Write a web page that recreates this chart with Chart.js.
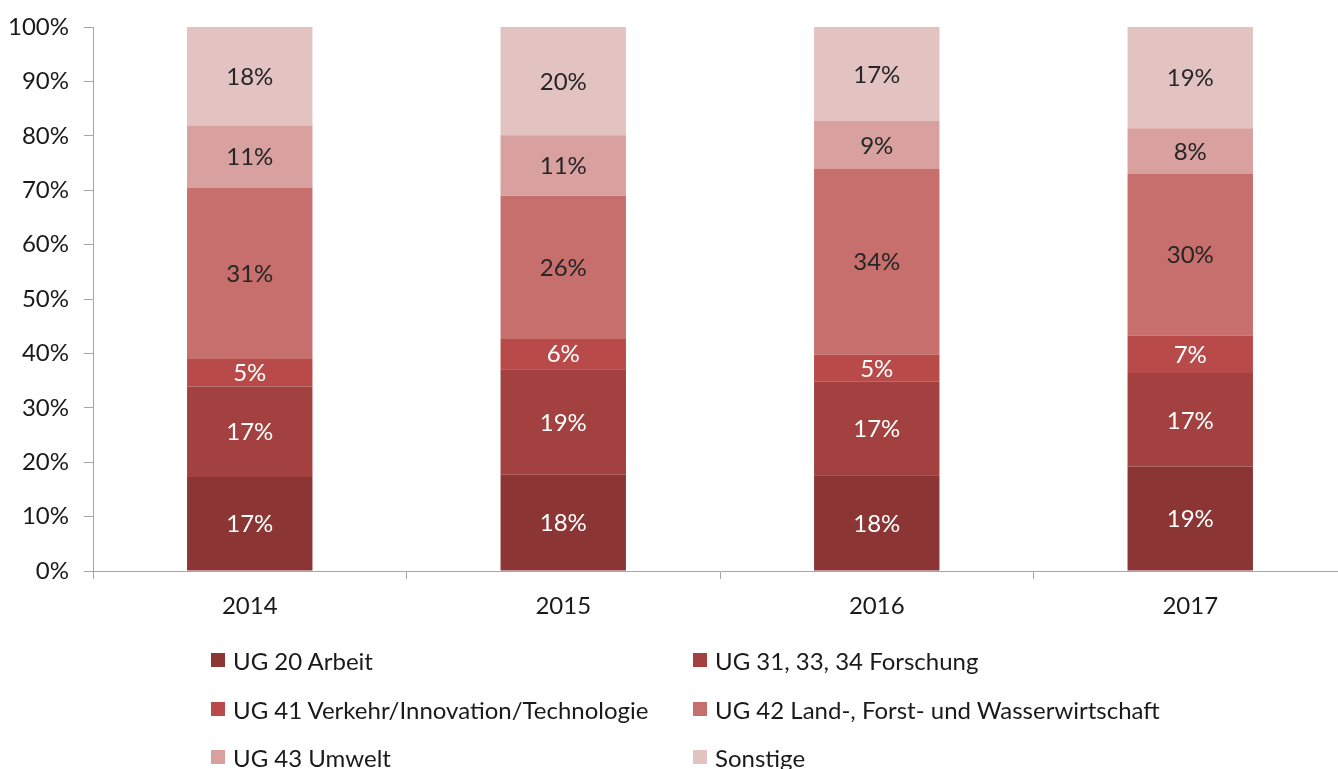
<!DOCTYPE html>
<html>
<head>
<meta charset="utf-8">
<script src="https://cdn.jsdelivr.net/npm/chart.js@4.4.1/dist/chart.umd.min.js"></script>
<style>
  html, body { margin: 0; padding: 0; background: #fff; overflow: hidden; }
  #wrap { position: relative; width: 1350px; height: 769px; }
  #c { position: absolute; left: 0; top: 0; }
  .lg { position: absolute; display: flex; align-items: center; font-family: Lato, "Liberation Sans", sans-serif; font-size: 24px; color: #1a1a1a; white-space: nowrap; }
  .lg span.box { display: inline-block; width: 14px; height: 14px; margin-right: 8px; }
</style>
</head>
<body>
<div id="wrap">
  <canvas id="c" width="1350" height="769"></canvas>
</div>
<script>
const categories = ["2014", "2015", "2016", "2017"];
const seriesNames = [
  "UG 20 Arbeit",
  "UG 31, 33, 34 Forschung",
  "UG 41 Verkehr/Innovation/Technologie",
  "UG 42 Land-, Forst- und Wasserwirtschaft",
  "UG 43 Umwelt",
  "Sonstige"
];
const arbeit     = [17.3, 17.7, 17.6, 19.2];
const forschung  = [16.6, 19.4, 17.2, 17.2];
const verkehr    = [5.2, 5.7, 5.0, 6.9];
const land       = [31.4, 26.2, 34.2, 29.7];
const umwelt     = [11.4, 11.1, 8.7, 8.4];
const sonstige   = [18.1, 19.9, 17.3, 18.6];
const yTicks = [0, 10, 20, 30, 40, 50, 60, 70, 80, 90, 100];

const seriesValues = [arbeit, forschung, verkehr, land, umwelt, sonstige];
const colors = ["#8B3535", "#A24140", "#B84B49", "#C76F6D", "#D8A09F", "#E3C3C2"];
const labelColors = ["#ffffff", "#ffffff", "#ffffff", "#262626", "#262626", "#262626"];
const FONT = 'Lato, "Liberation Sans", sans-serif';
const FS = 24;

const datasets = seriesNames.map((name, i) => ({
  label: name,
  data: seriesValues[i],
  backgroundColor: colors[i],
  borderWidth: 0,
  categoryPercentage: 1.0,
  barPercentage: 0.4
}));

const segLabels = {
  id: 'segLabels',
  afterDatasetsDraw(chart) {
    const ctx = chart.ctx;
    ctx.save();
    ctx.font = FS + 'px ' + FONT;
    ctx.textAlign = 'center';
    ctx.textBaseline = 'middle';
    chart.data.datasets.forEach((ds, di) => {
      const meta = chart.getDatasetMeta(di);
      meta.data.forEach((el, idx) => {
        const p = el.getProps(['x', 'y', 'base'], true);
        ctx.fillStyle = labelColors[di];
        ctx.fillText(Math.round(ds.data[idx]) + '%', p.x, (p.y + p.base) / 2 + 1);
      });
    });
    ctx.restore();
  }
};

const axisGrey = '#A6A6A6';
const chart = new Chart(document.getElementById('c'), {
  type: 'bar',
  data: { labels: categories, datasets },
  options: {
    responsive: false,
    animation: false,
    layout: { padding: { top: 27, right: 3, left: 0, bottom: 0 } },
    plugins: { legend: { display: false }, tooltip: { enabled: false } },
    scales: {
      x: {
        stacked: true,
        offset: true,
        grid: { display: true, drawOnChartArea: false, drawTicks: true, tickLength: 8, color: axisGrey, offset: true },
        border: { display: true, color: axisGrey, width: 1 },
        ticks: { color: '#1a1a1a', font: { family: FONT, size: FS }, padding: 13, maxRotation: 0 },
        afterFit(scale) { scale.height = 198; scale.paddingLeft = 0; scale.paddingRight = 0; }
      },
      y: {
        stacked: true,
        min: 0, max: 100,
        afterBuildTicks(scale) { scale.ticks = yTicks.map(v => ({ value: v })); },
        grid: { display: true, drawOnChartArea: false, drawTicks: true, tickLength: 9, color: axisGrey },
        border: { display: true, color: axisGrey, width: 1 },
        ticks: { color: '#1a1a1a', font: { family: FONT, size: FS }, padding: 15, callback: v => v + '%' },
        afterFit(scale) { scale.width = 93; scale.paddingTop = 0; scale.paddingBottom = 0; }
      }
    }
  },
  plugins: [segLabels]
});

// Two-column legend built from datasets
const wrap = document.getElementById('wrap');
const colLeft = [211, 693];
const rowTop = [648, 697, 745];
chart.data.datasets.forEach((ds, i) => {
  const d = document.createElement('div');
  d.className = 'lg';
  d.style.left = colLeft[i % 2] + 'px';
  d.style.top = rowTop[Math.floor(i / 2)] + 'px';
  d.style.height = '24px';
  const b = document.createElement('span');
  b.className = 'box';
  b.style.background = ds.backgroundColor;
  const t = document.createElement('span');
  t.textContent = ds.label;
  d.appendChild(b); d.appendChild(t);
  wrap.appendChild(d);
});
</script>
</body>
</html>
